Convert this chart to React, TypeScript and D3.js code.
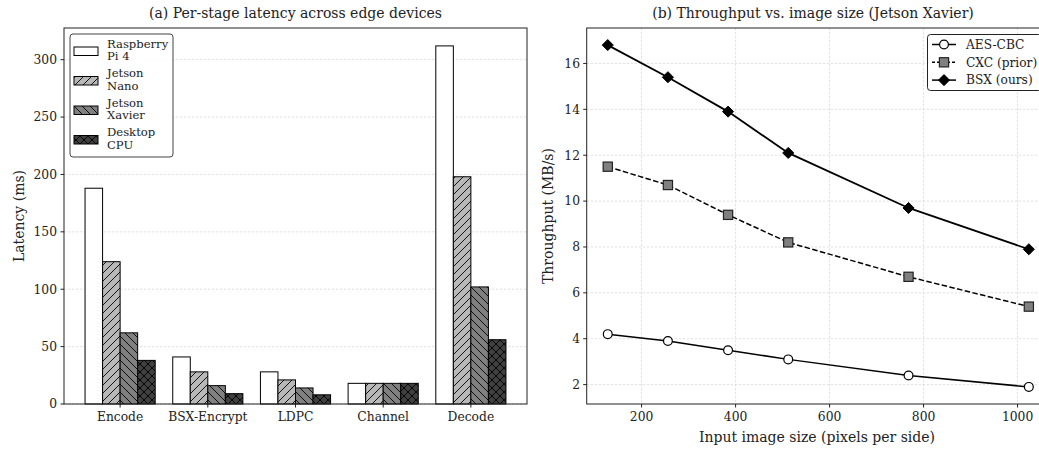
import * as d3 from "d3";

const stages = ["Encode", "BSX-Encrypt", "LDPC", "Channel", "Decode"];
const devices = [["Raspberry", "Pi 4"], ["Jetson", "Nano"], ["Jetson", "Xavier"], ["Desktop", "CPU"]];
const raspberryPi = [188, 41, 28, 18, 312];
const jetsonNano = [124, 28, 21, 18, 198];
const jetsonXavier = [62, 16, 14, 18, 102];
const desktopCpu = [38, 9, 8, 18, 56];
const latencyTicks = [0, 50, 100, 150, 200, 250, 300];

const imageSizes = [128, 256, 384, 512, 768, 1024];
const aesCbc = [4.2, 3.9, 3.5, 3.1, 2.4, 1.9];
const cxcPrior = [11.5, 10.7, 9.4, 8.2, 6.7, 5.4];
const bsxOurs = [16.8, 15.4, 13.9, 12.1, 9.7, 7.9];
const sizeTicks = [200, 400, 600, 800, 1000];
const throughputTicks = [2, 4, 6, 8, 10, 12, 14, 16];

const FONT = "'DejaVu Serif', serif";
const TXT = "#222";
const GRID = "#d6d6d6";
const TICK_FS = 12.3;

const fills = ["#ffffff", "#b8b8b8", "#808080", "#404040"];
const hatches = [null, "hatchFwd", "hatchBack", "hatchCross"];

const LeftPanel = () => {
  const series = [raspberryPi, jetsonNano, jetsonXavier, desktopCpu];
  const x = d3.scaleLinear().domain([-0.64, 4.64]).range([64, 527]);
  const y = d3.scaleLinear().domain([0, 327.6]).range([404, 28]);
  const bw = x(0.2) - x(0);
  return (
    <g>
      {latencyTicks.map(t => (
        <line key={"g" + t} x1={64} x2={527} y1={y(t)} y2={y(t)} stroke={GRID} strokeWidth={0.7} strokeDasharray="2.5,1.5" />
      ))}
      {series.map((vals, j) =>
        vals.map((v, i) => {
          const bx = x(i + (j - 1.5) * 0.2 - 0.1);
          return (
            <g key={j + "-" + i}>
              <rect x={bx} y={y(v)} width={bw} height={y(0) - y(v)} fill={fills[j]} />
              {hatches[j] && <rect x={bx} y={y(v)} width={bw} height={y(0) - y(v)} fill={`url(#${hatches[j]})`} />}
              <rect x={bx} y={y(v)} width={bw} height={y(0) - y(v)} fill="none" stroke="#000" strokeWidth={1} />
            </g>
          );
        })
      )}
      <rect x={64} y={28} width={463} height={376} fill="none" stroke="#222" strokeWidth={1} />
      {latencyTicks.map(t => (
        <g key={"t" + t}>
          <line x1={60.5} x2={64} y1={y(t)} y2={y(t)} stroke="#222" />
          <text x={57} y={y(t)} dy="0.35em" textAnchor="end" fontSize={TICK_FS} fill={TXT} fontFamily={FONT}>{t}</text>
        </g>
      ))}
      {stages.map((s, i) => (
        <g key={s}>
          <line x1={x(i)} x2={x(i)} y1={404} y2={407.5} stroke="#222" />
          <text x={x(i)} y={421} textAnchor="middle" fontSize={TICK_FS} fill={TXT} fontFamily={FONT}>{s}</text>
        </g>
      ))}
      <text transform="translate(24,216) rotate(-90)" textAnchor="middle" fontSize={14} fill={TXT} fontFamily={FONT}>Latency (ms)</text>
      <text x={295.5} y={18} textAnchor="middle" fontSize={14} fill={TXT} fontFamily={FONT}>(a) Per-stage latency across edge devices</text>
      <rect x={70} y={34} width={103} height={123} rx={3} fill="#fff" fillOpacity={0.85} stroke="#444" strokeWidth={1} />
      {devices.map((d, j) => {
        const cy = 51 + j * 29.5;
        return (
          <g key={d.join(" ")}>
            <rect x={74} y={cy - 4} width={24} height={8.5} fill={fills[j]} />
            {hatches[j] && <rect x={74} y={cy - 4} width={24} height={8.5} fill={`url(#${hatches[j]})`} />}
            <rect x={74} y={cy - 4} width={24} height={8.5} fill="none" stroke="#000" strokeWidth={1} />
            <text x={107} y={cy - 3.5} fontSize={11.6} fill={TXT} fontFamily={FONT}>{d[0]}</text>
            <text x={107} y={cy + 9} fontSize={11.6} fill={TXT} fontFamily={FONT}>{d[1]}</text>
          </g>
        );
      })}
    </g>
  );
};

const RightPanel = () => {
  const x = d3.scaleLinear().domain([83.2, 1068.8]).range([586.7, 1049.9]);
  const y = d3.scaleLinear().domain([1.155, 17.545]).range([404, 28]);
  const line = d3.line<number>().x((_, i) => x(imageSizes[i])).y(d => y(d));
  const diamond = d3.symbol().type(d3.symbolDiamond2).size(78)() as string;
  return (
    <g>
      <defs>
        <clipPath id="rclip"><rect x={580} y={20} width={470} height={390} /></clipPath>
      </defs>
      {sizeTicks.map(t => (
        <line key={"gx" + t} x1={x(t)} x2={x(t)} y1={28} y2={404} stroke={GRID} strokeWidth={0.7} strokeDasharray="2.5,1.5" />
      ))}
      {throughputTicks.map(t => (
        <line key={"gy" + t} x1={586.7} x2={1050} y1={y(t)} y2={y(t)} stroke={GRID} strokeWidth={0.7} strokeDasharray="2.5,1.5" />
      ))}
      <g clipPath="url(#rclip)">
        <path d={line(aesCbc) || ""} fill="none" stroke="#000" strokeWidth={1.5} />
        <path d={line(cxcPrior) || ""} fill="none" stroke="#000" strokeWidth={1.5} strokeDasharray="5.5,2.4" />
        <path d={line(bsxOurs) || ""} fill="none" stroke="#000" strokeWidth={1.8} />
        {aesCbc.map((v, i) => (
          <circle key={"a" + i} cx={x(imageSizes[i])} cy={y(v)} r={4.4} fill="#fff" stroke="#000" strokeWidth={1.2} />
        ))}
        {cxcPrior.map((v, i) => (
          <rect key={"c" + i} x={x(imageSizes[i]) - 4.6} y={y(v) - 4.6} width={9.2} height={9.2} fill="#808080" stroke="#222" strokeWidth={1.2} />
        ))}
        {bsxOurs.map((v, i) => (
          <path key={"b" + i} d={diamond} transform={`translate(${x(imageSizes[i])},${y(v)})`} fill="#000" stroke="#000" strokeWidth={1} />
        ))}
      </g>
      <rect x={586.7} y={28} width={463.2} height={376} fill="none" stroke="#222" strokeWidth={1} />
      {throughputTicks.map(t => (
        <g key={"ty" + t}>
          <line x1={583.2} x2={586.7} y1={y(t)} y2={y(t)} stroke="#222" />
          <text x={580} y={y(t)} dy="0.35em" textAnchor="end" fontSize={TICK_FS} fill={TXT} fontFamily={FONT}>{t}</text>
        </g>
      ))}
      {sizeTicks.map(t => (
        <g key={"tx" + t}>
          <line x1={x(t)} x2={x(t)} y1={404} y2={407.5} stroke="#222" />
          <text x={x(t)} y={421} textAnchor="middle" fontSize={TICK_FS} fill={TXT} fontFamily={FONT}>{t}</text>
        </g>
      ))}
      <text x={817} y={442} textAnchor="middle" fontSize={14} fill={TXT} fontFamily={FONT}>Input image size (pixels per side)</text>
      <text transform="translate(553,216) rotate(-90)" textAnchor="middle" fontSize={14} fill={TXT} fontFamily={FONT}>Throughput (MB/s)</text>
      <text x={813} y={18} textAnchor="middle" fontSize={14} fill={TXT} fontFamily={FONT}>(b) Throughput vs. image size (Jetson Xavier)</text>
      <rect x={927.5} y={34.5} width={114} height={56} rx={3} fill="#fff" fillOpacity={0.85} stroke="#222" strokeWidth={1} />
      {[
        { name: "AES-CBC", dash: undefined },
        { name: "CXC (prior)", dash: "3,2" },
        { name: "BSX (ours)", dash: undefined },
      ].map((s, k) => {
        const ly = 44.5 + k * 17.8;
        return (
          <g key={s.name}>
            <line x1={932} x2={956} y1={ly} y2={ly} stroke="#000" strokeWidth={1.5} strokeDasharray={s.dash} />
            {k === 0 && <circle cx={944} cy={ly} r={4.4} fill="#fff" stroke="#000" strokeWidth={1.2} />}
            {k === 1 && <rect x={939.4} y={ly - 4.6} width={9.2} height={9.2} fill="#808080" stroke="#222" strokeWidth={1.2} />}
            {k === 2 && <path d={diamond} transform={`translate(944,${ly})`} fill="#000" stroke="#000" strokeWidth={1} />}
            <text x={966} y={ly} dy="0.35em" fontSize={12.2} fill={TXT} fontFamily={FONT}>{s.name}</text>
          </g>
        );
      })}
    </g>
  );
};

export default function App() {
  return (
    <svg width={1039} height={449} style={{ position: "absolute", left: 0, top: 0, background: "#fff" }}>
      <defs>
        <pattern id="hatchFwd" patternUnits="userSpaceOnUse" width={8} height={8}>
          <path d="M-2,2 L2,-2 M0,8 L8,0 M6,10 L10,6" stroke="#000" strokeWidth={0.9} />
        </pattern>
        <pattern id="hatchBack" patternUnits="userSpaceOnUse" width={8} height={8}>
          <path d="M-2,6 L2,10 M0,0 L8,8 M6,-2 L10,2" stroke="#000" strokeWidth={0.9} />
        </pattern>
        <pattern id="hatchCross" patternUnits="userSpaceOnUse" width={8} height={8}>
          <path d="M-2,2 L2,-2 M0,8 L8,0 M6,10 L10,6 M-2,6 L2,10 M0,0 L8,8 M6,-2 L10,2" stroke="#000" strokeWidth={0.9} />
        </pattern>
      </defs>
      <rect width={1039} height={449} fill="#fff" />
      <LeftPanel />
      <RightPanel />
    </svg>
  );
}
